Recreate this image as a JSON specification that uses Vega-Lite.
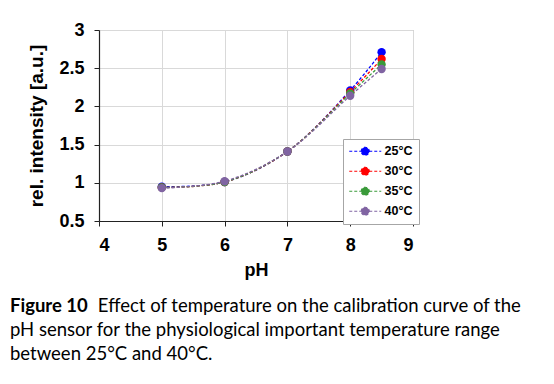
{
  "$schema": "https://vega.github.io/schema/vega-lite/v6.json",
  "autosize": {"type": "none"},
  "width": 314,
  "height": 191,
  "padding": {"left": 99, "top": 30, "right": 141, "bottom": 163},
  "background": "white",
  "title": {
    "text": "Figure 10",
    "orient": "bottom",
    "anchor": "start",
    "frame": "group",
    "dx": -89,
    "offset": 18,
    "font": "Lato",
    "fontSize": 18.5,
    "fontWeight": "bold",
    "color": "black",
    "subtitle": [
      "\u200b\u2003\u2003\u2003\u2003\u2003\u2002\u2002Effect of temperature on the calibration curve of the",
      "pH sensor for the physiological important temperature range",
      "between 25°C and 40°C."
    ],
    "subtitleFont": "Lato",
    "subtitleFontSize": 18.5,
    "subtitleColor": "black",
    "subtitlePadding": -18.5,
    "subtitleLineHeight": 24
  },
  "data": {
    "values": [
      {"temp": "25°C", "pH": 5, "intensity": 0.95},
      {"temp": "25°C", "pH": 6, "intensity": 1.01},
      {"temp": "25°C", "pH": 7, "intensity": 1.41},
      {"temp": "25°C", "pH": 8, "intensity": 2.21},
      {"temp": "25°C", "pH": 8.5, "intensity": 2.71},
      {"temp": "30°C", "pH": 5, "intensity": 0.94},
      {"temp": "30°C", "pH": 6, "intensity": 1.01},
      {"temp": "30°C", "pH": 7, "intensity": 1.41},
      {"temp": "30°C", "pH": 8, "intensity": 2.19},
      {"temp": "30°C", "pH": 8.5, "intensity": 2.62},
      {"temp": "35°C", "pH": 5, "intensity": 0.94},
      {"temp": "35°C", "pH": 6, "intensity": 1.01},
      {"temp": "35°C", "pH": 7, "intensity": 1.41},
      {"temp": "35°C", "pH": 8, "intensity": 2.17},
      {"temp": "35°C", "pH": 8.5, "intensity": 2.55},
      {"temp": "40°C", "pH": 5, "intensity": 0.93},
      {"temp": "40°C", "pH": 6, "intensity": 1.02},
      {"temp": "40°C", "pH": 7, "intensity": 1.41},
      {"temp": "40°C", "pH": 8, "intensity": 2.14},
      {"temp": "40°C", "pH": 8.5, "intensity": 2.49}
    ]
  },
  "encoding": {
    "x": {
      "field": "pH",
      "type": "quantitative",
      "scale": {"domain": [4, 9], "nice": false, "zero": false},
      "axis": {"values": [4, 5, 6, 7, 8, 9], "title": "pH", "titleFontSize": 18, "titlePadding": 7, "labelPadding": 10}
    },
    "y": {
      "field": "intensity",
      "type": "quantitative",
      "scale": {"domain": [0.5, 3], "nice": false, "zero": false},
      "axis": {"values": [0.5, 1, 1.5, 2, 2.5, 3], "format": "~g", "title": "rel. intensity [a.u.]", "titleFontSize": 19, "titlePadding": 12, "labelPadding": 10}
    },
    "color": {
      "field": "temp",
      "type": "nominal",
      "scale": {"domain": ["25°C", "30°C", "35°C", "40°C"], "range": ["#0000ff", "#ff0000", "#3a9a3a", "#8064a2"]},
      "legend": {
        "title": null,
        "orient": "none",
        "legendX": 244,
        "legendY": 109,
        "padding": 6,
        "fillColor": "white",
        "strokeColor": "#a6a6a6",
        "symbolOffset": 10,
        "labelOffset": 13,
        "rowPadding": 6,
        "labelFont": "Liberation Sans",
        "labelFontWeight": "bold",
        "labelFontSize": 12.5,
        "labelColor": "black",
        "symbolSize": 64,
        "encode": {
          "symbols": {
            "update": {
              "fill": {"scale": "color", "field": "value"},
              "stroke": {"scale": "color", "field": "value"},
              "strokeDash": {"value": [3, 2]},
              "strokeWidth": {"value": 1.2},
              "shape": {"value": "M -4 0 L 4 0 M -1 0 A 1 1 0 1 1 1 0 A 1 1 0 1 1 -1 0 Z"},
              "size": {"value": 64},
              "opacity": {"value": 1}
            }
          }
        }
      }
    }
  },
  "layer": [
    {"mark": {"type": "line", "interpolate": "catmull-rom", "strokeDash": [3, 2], "strokeWidth": 1.3}},
    {"mark": {"type": "point", "filled": true, "size": 70, "opacity": 1, "shape": "circle"}}
  ],
  "config": {
    "view": {"stroke": "#b0b0b0", "strokeWidth": 1},
    "axis": {
      "domainColor": "#222222",
      "domainWidth": 1.2,
      "tickColor": "#222222",
      "tickSize": 5,
      "gridColor": "#d9d9d9",
      "labelFont": "Liberation Sans",
      "labelFontWeight": "bold",
      "labelFontSize": 18,
      "labelColor": "black",
      "titleFont": "Liberation Sans",
      "titleFontWeight": "bold",
      "titleColor": "black"
    }
  }
}
